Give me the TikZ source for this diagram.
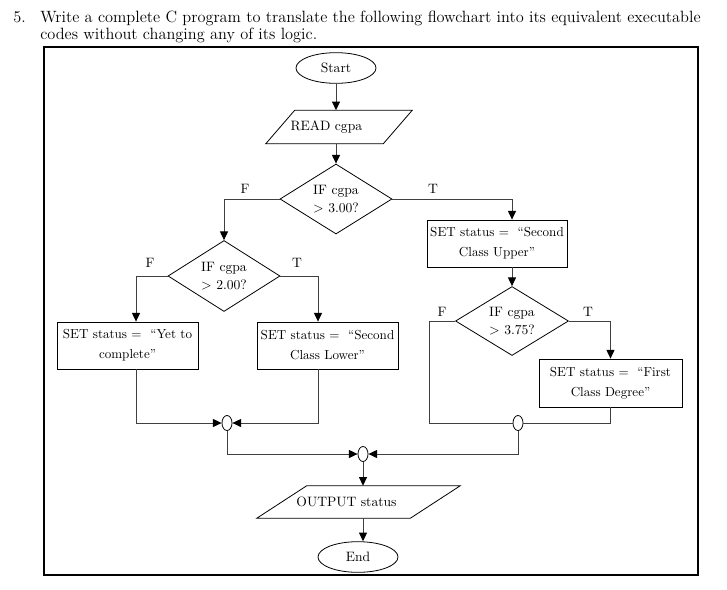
\documentclass[tikz,border=0pt]{standalone}
\usepackage{fontspec}
\usetikzlibrary{shapes.geometric,arrows.meta}
\begin{document}
\begin{tikzpicture}[x=0.75pt,y=-0.75pt,
  every node/.style={font=\fontsize{9.8}{15}\selectfont},
  shp/.style={draw,line width=0.6pt,inner sep=0pt},
  term/.style={shp,ellipse,minimum width=60pt,minimum height=23pt,font=\fontsize{10.2}{12}\selectfont},
  io/.style={inner sep=0pt,rectangle,font=\fontsize{10.2}{12}\selectfont},
  ioline/.style={line width=0.6pt},
  dec/.style={shp,diamond,aspect=1.6,align=center,font=\fontsize{10.2}{13.5}\selectfont},
  proc/.style={shp,rectangle,align=center,minimum height=35.25pt},
  junc/.style={shp,ellipse,minimum width=7.5pt,minimum height=11.25pt},
  ln/.style={line width=0.7pt,draw=black!75},
  arr/.style={ln,-{Triangle[length=6.5pt,width=6pt,fill=black,color=black]}},
  lbl/.style={inner sep=1pt,font=\fontsize{10.2}{12}\selectfont},
  ttl/.style={inner sep=0pt,anchor=base west,font=\fontsize{12.25}{14}\selectfont}
]
\useasboundingbox (0,0) rectangle (727,589);

% title
\node[ttl] (num) at (13,22) {5.};
\node[ttl] (t1) at (40,22) {Write a complete C program to translate the following flowchart into its equivalent executable};
\node[ttl] (t2) at (40,39) {codes without changing any of its logic.};

% frame
\draw[line width=0.9pt] (44,47) rectangle (698,575);

% nodes
\node[term] (start) at (336,68) {Start};
\node[io,minimum width=109.5pt,minimum height=24.75pt] (read) at (339,127) {READ cgpa\kern19pt};
\draw[ioline] ([xshift=21.75pt]read.north west) -- (read.north east)
   -- ([xshift=-21.75pt]read.south east) -- (read.south west) -- cycle;
\node[dec,minimum width=84pt,minimum height=52.5pt] (d1) at (336,199) {IF cgpa\\> 3.00?};
\node[dec,minimum width=84pt,minimum height=53.25pt] (d2) at (224,276) {IF cgpa\\> 2.00?};
\node[proc,minimum width=105pt] (scu) at (497,243.5) {SET status =\ \ “Second\\Class Upper”};
\node[dec,minimum width=84.75pt,minimum height=51.75pt] (d3) at (512,321) {IF cgpa\\> 3.75?};
\node[proc,minimum width=105.75pt] (ytc) at (127.5,345.5) {SET status =\ \ “Yet to\\complete”};
\node[proc,minimum width=105.75pt] (scl) at (327.5,345.5) {SET status =\ \ “Second\\Class Lower”};
\node[proc,minimum width=107.25pt,minimum height=36pt] (fcd) at (610.5,383) {SET status =\ \ “First\\Class Degree”};
\node[junc] (c1) at (227,423) {};
\node[junc] (c2) at (518,423) {};
\node[junc] (c3) at (363,454) {};
\node[io,minimum width=152.25pt,minimum height=24pt] (out) at (358.5,502) {OUTPUT status\kern18pt};
\draw[ioline] ([xshift=37.5pt]out.north west) -- (out.north east)
   -- ([xshift=-37.5pt]out.south east) -- (out.south west) -- cycle;
\node[term] (end) at (358,557) {End};

% branch labels
\node[lbl] (f1) at (245,189) {F};
\node[lbl] (tt1) at (433,189) {T};
\node[lbl] (f2) at (150,263) {F};
\node[lbl] (tt2) at (297,263) {T};
\node[lbl] (f3) at (442,312) {F};
\node[lbl] (tt3) at (588,312) {T};

% helper columns
\coordinate (colL) at (136,0);
\coordinate (colR) at (318,0);
\coordinate (colF) at (429,0);

% connectors
\draw[arr] (start.south) -- (start.south |- read.north);
\draw[arr] (d1.north |- read.south) -- (d1.north);
\draw[arr] (d1.west) -| (d2.north);
\draw[arr] (d1.east) -| (d3.north |- scu.north);
\draw[arr] (d3.north |- scu.south) -- (d3.north);
\draw[arr] (d2.west) -| (colL |- ytc.north);
\draw[arr] (d2.east) -| (colR |- scl.north);
\draw[arr] (colL |- ytc.south) |- (c1.west);
\draw[arr] (colR |- scl.south) |- (c1.east);
\draw[arr] (c1.south) |- (c3.west);
\draw[ln] (d3.west) -| (colF |- c2) -- (c2.west);
\draw[arr] (d3.east) -| (fcd.north);
\draw[ln] (fcd.south) |- (c2.east);
\draw[arr] (c2.south) |- (c3.east);
\draw[arr] (c3.south) -- (c3.south |- out.north);
\draw[arr] (c3.south |- out.south) -- (c3.south |- end.north);
\end{tikzpicture}
\end{document}
